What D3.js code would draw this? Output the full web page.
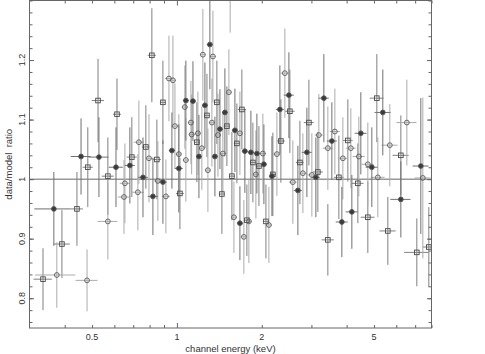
<!DOCTYPE html>
<html>
<head>
<meta charset="utf-8">
<script src="https://cdn.jsdelivr.net/npm/d3@7"></script>
<style>
body { margin: 0; background: #fff; }
text { font-family: "Liberation Sans", Arial, sans-serif; fill: #333; }
</style>
</head>
<body>
<svg></svg>
<script>
// open squares
var sqEnergy = [0.335,0.391,0.442,0.483,0.525,0.569,0.613,0.692,0.776,0.815,0.849,0.892,1.025,1.177,1.278,1.386,1.444,1.504,1.567,1.632,1.700,1.771,1.860,1.954,2.069,2.190,2.338,2.516,2.731,2.939,3.162,3.431,3.754,4.040,4.384,4.756,5.119,5.600,6.228,7.096,7.828];
var sqEnergyErr = [0.025,0.026,0.022,0.020,0.026,0.028,0.020,0.028,0.025,0.027,0.028,0.022,0.033,0.029,0.031,0.034,0.035,0.037,0.038,0.040,0.056,0.043,0.046,0.048,0.051,0.054,0.076,0.10,0.089,0.12,0.13,0.17,0.15,0.16,0.21,0.27,0.29,0.37,0.41,0.70,0.38];
var sqRatio = [0.832,0.891,0.950,1.020,1.132,1.005,1.109,1.037,1.054,1.208,1.033,1.129,0.976,1.062,1.107,1.129,0.975,1.089,1.005,1.060,1.117,0.931,1.028,1.022,0.929,1.008,1.064,1.114,1.028,1.095,1.012,0.898,1.003,1.065,0.993,0.936,1.136,0.913,1.040,0.877,0.886];
var sqRatioErr = [0.052,0.057,0.062,0.067,0.070,0.065,0.060,0.067,0.070,0.079,0.067,0.070,0.060,0.067,0.070,0.070,0.067,0.067,0.074,0.067,0.067,0.060,0.067,0.067,0.062,0.070,0.070,0.070,0.070,0.072,0.067,0.060,0.070,0.069,0.067,0.060,0.074,0.057,0.067,0.057,0.067];

// open circles
var ocEnergy = [0.375,0.480,0.569,0.649,0.654,0.727,0.733,0.796,0.856,0.914,0.937,0.968,0.984,1.016,1.067,1.076,1.121,1.128,1.187,1.226,1.236,1.288,1.331,1.342,1.398,1.456,1.529,1.545,1.593,1.673,1.728,1.800,1.906,2.018,2.120,2.263,2.415,2.578,2.798,3.011,3.188,3.431,3.633,3.879,4.140,4.419,4.756,5.161,5.692,6.541,7.453];
var ocEnergyErr = [0.061,0.043,0.046,0.032,0.027,0.036,0.030,0.026,0.028,0.030,0.031,0.024,0.032,0.025,0.026,0.026,0.027,0.027,0.029,0.030,0.030,0.032,0.033,0.033,0.034,0.036,0.037,0.037,0.039,0.041,0.042,0.044,0.047,0.049,0.052,0.074,0.079,0.084,0.091,0.098,0.104,0.140,0.148,0.158,0.169,0.216,0.233,0.295,0.372,0.534,0.487];
var ocRatio = [0.839,0.830,0.929,0.970,0.993,0.978,1.062,1.035,0.997,0.971,1.169,1.166,1.089,1.042,1.121,1.032,1.095,1.075,1.077,1.052,1.209,1.015,1.095,1.206,1.074,1.043,1.146,1.320,0.936,1.077,0.903,0.929,1.008,1.043,0.923,1.042,1.178,0.995,1.010,1.007,1.074,1.052,1.080,1.035,1.052,1.038,1.025,1.003,1.057,1.095,1.002];
var ocRatioErr = [0.055,0.052,0.064,0.062,0.067,0.064,0.070,0.074,0.067,0.062,0.072,0.075,0.072,0.067,0.070,0.070,0.070,0.067,0.070,0.070,0.077,0.070,0.074,0.077,0.070,0.070,0.072,0.074,0.060,0.070,0.062,0.070,0.074,0.067,0.064,0.070,0.075,0.070,0.067,0.070,0.069,0.070,0.072,0.069,0.067,0.067,0.070,0.067,0.069,0.072,0.135];

// filled circles
var fcEnergy = [0.366,0.457,0.529,0.608,0.681,0.758,0.822,0.892,0.960,1.016,1.076,1.140,1.197,1.257,1.309,1.364,1.421,1.480,1.606,1.673,1.742,1.830,1.922,2.035,2.173,2.319,2.496,2.686,2.891,3.111,3.321,3.545,3.847,4.174,4.492,4.914,5.375,6.228,7.332];
var fcEnergyErr = [0.054,0.037,0.043,0.035,0.028,0.031,0.034,0.029,0.024,0.033,0.026,0.028,0.029,0.031,0.032,0.033,0.035,0.036,0.039,0.041,0.043,0.045,0.047,0.050,0.053,0.076,0.102,0.088,0.118,0.102,0.136,0.145,0.188,0.204,0.220,0.241,0.351,0.51,0.479];
var fcRatio = [0.950,1.038,1.037,1.020,1.023,1.003,0.971,0.995,1.048,1.018,1.132,1.131,1.038,1.124,1.226,1.038,1.084,1.112,1.082,0.926,1.047,1.045,1.043,1.025,1.005,1.117,1.141,0.981,1.045,1.003,1.136,1.064,0.928,0.945,1.077,1.020,1.112,0.966,1.022];
var fcRatioErr = [0.062,0.064,0.067,0.067,0.064,0.067,0.065,0.070,0.064,0.074,0.067,0.067,0.070,0.072,0.075,0.067,0.067,0.074,0.070,0.062,0.070,0.070,0.067,0.067,0.067,0.074,0.072,0.075,0.075,0.067,0.074,0.065,0.059,0.062,0.069,0.067,0.072,0.064,0.114];

// axis ticks
var xLabelTicks = [0.5, 1, 2, 5];
var xMinorTicks = [0.4,0.5,0.6,0.7,0.8,0.9,2,3,4,5,6,7,8];
var xMajorTicks = [1];
var yLabelTicks = [0.8, 0.9, 1, 1.1, 1.2];
var yMinorTicks = d3.range(38, 66).map(function(i) { return i / 50; });

var svgWidth = 485, svgHeight = 354;
var plotLeft = 29.5, plotRight = 431.5, plotTop = 0.5, plotBottom = 328;

var svg = d3.select("svg")
    .attr("width", svgWidth)
    .attr("height", svgHeight);

var x = d3.scaleLog().domain([0.3, 8]).range([plotLeft, plotRight]);
var y = d3.scaleLinear().domain([0.75, 1.3]).range([plotBottom, plotTop]);

svg.append("clipPath").attr("id", "clip")
    .append("rect")
    .attr("x", plotLeft).attr("y", plotTop)
    .attr("width", plotRight - plotLeft).attr("height", plotBottom - plotTop);

var plot = svg.append("g").attr("clip-path", "url(#clip)");

// line at ratio 1
plot.append("line")
    .attr("x1", x(0.3)).attr("x2", x(8))
    .attr("y1", y(1)).attr("y2", y(1))
    .attr("stroke", "#999")
    .attr("stroke-width", 1.5);

function build(e, ee, r, re) {
    return e.map(function(v, i) {
        return { e: v, ee: ee[i], r: r[i], re: re[i] };
    });
}

var series = [
    { name: "sq", data: build(sqEnergy, sqEnergyErr, sqRatio, sqRatioErr), bar: "#808080" },
    { name: "oc", data: build(ocEnergy, ocEnergyErr, ocRatio, ocRatioErr), bar: "#ababab" },
    { name: "fc", data: build(fcEnergy, fcEnergyErr, fcRatio, fcRatioErr), bar: "#707070" }
];

// error bars first
series.forEach(function(s) {
    var g = plot.append("g");
    g.selectAll(".ybar").data(s.data).enter().append("line")
        .attr("x1", function(d) { return x(d.e); })
        .attr("x2", function(d) { return x(d.e); })
        .attr("y1", function(d) { return y(d.r - d.re); })
        .attr("y2", function(d) { return y(d.r + d.re); })
        .attr("stroke", s.bar)
        .attr("stroke-width", 1);
    g.selectAll(".xbar").data(s.data).enter().append("line")
        .attr("x1", function(d) { return x(d.e - d.ee); })
        .attr("x2", function(d) { return x(d.e + d.ee); })
        .attr("y1", function(d) { return y(d.r); })
        .attr("y2", function(d) { return y(d.r); })
        .attr("stroke", s.bar)
        .attr("stroke-width", 1);
});

// markers
series.forEach(function(s) {
    var g = plot.append("g");
    if (s.name == "sq") {
        g.selectAll("rect").data(s.data).enter().append("rect")
            .attr("x", function(d) { return x(d.e) - 2.3; })
            .attr("y", function(d) { return y(d.r) - 2.3; })
            .attr("width", 4.6).attr("height", 4.6)
            .attr("fill", "none")
            .attr("stroke", "#4a4a4a")
            .attr("stroke-width", 0.9);
    } else {
        g.selectAll("circle").data(s.data).enter().append("circle")
            .attr("cx", function(d) { return x(d.e); })
            .attr("cy", function(d) { return y(d.r); })
            .attr("r", 2.4)
            .attr("fill", s.name == "fc" ? "#3a3a3a" : "none")
            .attr("stroke", "#585858")
            .attr("stroke-width", 0.9);
    }
});

// frame
svg.append("rect")
    .attr("x", plotLeft).attr("y", plotTop)
    .attr("width", plotRight - plotLeft).attr("height", plotBottom - plotTop)
    .attr("fill", "none")
    .attr("stroke", "#666");

// inward ticks on all four sides
function ticks(axis, vals, len, tx) {
    svg.append("g")
        .attr("transform", tx)
        .call(axis.tickValues(vals).tickSize(len).tickFormat(""))
        .call(function(g) {
            g.select(".domain").remove();
            g.selectAll("line").attr("stroke", "#666");
        });
}
ticks(d3.axisBottom(x), xMinorTicks, -3, "translate(0," + plotBottom + ")");
ticks(d3.axisBottom(x), xMajorTicks, -5, "translate(0," + plotBottom + ")");
ticks(d3.axisTop(x), xMinorTicks, -3, "translate(0," + plotTop + ")");
ticks(d3.axisTop(x), xMajorTicks, -5, "translate(0," + plotTop + ")");
ticks(d3.axisLeft(y), yMinorTicks, -3, "translate(" + plotLeft + ",0)");
ticks(d3.axisLeft(y), yLabelTicks, -4.5, "translate(" + plotLeft + ",0)");
ticks(d3.axisRight(y), yMinorTicks, -3, "translate(" + plotRight + ",0)");
ticks(d3.axisRight(y), yLabelTicks, -4.5, "translate(" + plotRight + ",0)");

// tick labels
svg.append("g").selectAll("text").data(xLabelTicks).enter().append("text")
    .attr("x", function(d) { return x(d); })
    .attr("y", 340)
    .attr("text-anchor", "middle")
    .attr("font-size", 9)
    .text(function(d) { return d; });

svg.append("g").selectAll("text").data(yLabelTicks).enter().append("text")
    .attr("transform", function(d) { return "translate(25," + y(d) + ") rotate(-90)"; })
    .attr("text-anchor", "middle")
    .attr("font-size", 9)
    .text(function(d) { return d; });

// axis titles
svg.append("text")
    .attr("x", (plotLeft + plotRight) / 2)
    .attr("y", 352)
    .attr("text-anchor", "middle")
    .attr("font-size", 9.5)
    .text("channel energy (keV)");

svg.append("text")
    .attr("transform", "translate(12," + (plotTop + plotBottom) / 2 + ") rotate(-90)")
    .attr("text-anchor", "middle")
    .attr("font-size", 9.5)
    .attr("xml:space", "preserve")
    .text("data/model  ratio");
</script>
</body>
</html>
